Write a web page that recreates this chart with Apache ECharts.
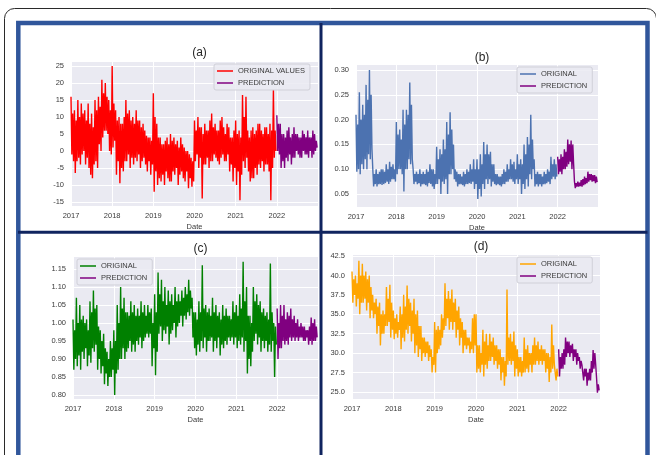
<!DOCTYPE html>
<html><head><meta charset="utf-8">
<script src="https://cdn.jsdelivr.net/npm/echarts@6/dist/echarts.min.js"></script>
<style>html,body{margin:0;padding:0;background:#fff}#c{width:656px;height:455px}</style>
</head><body><div id="c"></div>
<script>
// Weekly samples (4 per month) starting Jan 2017 (original) and Jan 2022 (prediction).
// Values alternate local high / local low.
const yearLabels = ['2017','2018','2019','2020','2021','2022'];

const aOriginal = [
 16,-1,11,-3, 12,-6.5,9,-3, 15,-2,10,-4, 14,-1,11,0, 12,-4,9,-2, 14,-5,8,-7, 11,-8,7,-4, 15,-3,12,-5, 16,2,13,0, 21,4,17,6, 20,6,16,5, 15,0,12,-1,
 25,1,14,3, 12,-7,9,-3, 10,-9.5,8,-5, 8,-6,10,-3, 15,-3,11,-1, 12,-5,9,-2, 10,-4,8,-2, 12,-3,9,-1, 9,-5,7,-3, 8,-2,6,-4, 4.5,-6,4,-3, 4,-7,3,-4,
 17,-12,10,-6, 8,-10,4,-8, 4,-9,2,-7, 2,-10,3,-6, 4,-8,2,-9, 5,-9,3,-6, 4,-7,2,-5, 3,-10,1,-7, 4,-6,2,-8, 1,-9,0,-6, 0,-11,-1,-8, -2,-10.5,-3,-9,
 9,-3,6,-1, 10,-5,7,-2, 7,-14,5,-4, 8,-4,6,-2, 6,-5,9,-3, 11,-3,7,-1, 8,-2,6,-3, 6,-4,9,-2, 10,-1,7,-3, 5,-3,8,-1, 7,-6,4,-4, 4,-9,6,-5,
 9,-10,5,-6, 6,-14.5,4,-7, 16.5,-3,10,-5, 16,-2,6,-6, 4,-9,6,-8, 7,-8,5,-5, 6,-7,8,-4, 8,-5,6,-3, 5,-6,7,-4, 7,-4,5,-6, 8,-14.5,6,-5, 18,-2,6,0
];
const aPrediction = [10.5,0,8,-1, 8,-5,5,-3, 5,-5,4,-2, 6,-3,7,-1, 4,-4,5,-2, 7,-2,5,0, 5,-1,4,-2, 4,-2,6,0, 5,-1,4,-1, 6,-2,4,0, 4,-2,6,-1, 5,0,3,1];

const bOriginal = [
 .21,.095,.19,.10, .255,.09,.20,.11, .23,.10,.21,.12, .27,.10,.24,.13, .30,.12,.25,.14, .10,.065,.09,.07, .10,.065,.09,.07, .095,.07,.10,.068, .10,.07,.095,.072, .11,.075,.10,.07, .115,.075,.105,.08, .11,.08,.10,.075,
 .195,.09,.17,.10, .18,.10,.16,.09, .22,.055,.19,.10, .22,.10,.21,.12, .275,.11,.23,.12, .10,.07,.09,.075, .095,.07,.09,.072, .10,.065,.09,.07, .095,.07,.09,.068, .10,.065,.095,.072, .11,.07,.10,.065, .10,.06,.09,.07,
 .145,.07,.12,.08, .14,.05,.13,.075, .16,.07,.14,.08, .195,.05,.17,.09, .215,.09,.18,.10, .15,.08,.10,.075, .095,.065,.09,.07, .09,.07,.085,.068, .095,.065,.09,.07, .10,.07,.095,.072, .11,.07,.10,.075, .12,.06,.10,.07,
 .12,.04,.10,.06, .13,.045,.11,.07, .155,.06,.13,.08, .15,.07,.13,.08, .135,.065,.11,.075, .11,.07,.09,.068, .09,.07,.085,.068, .085,.065,.09,.07, .10,.07,.095,.075, .11,.075,.10,.08, .12,.08,.11,.075, .115,.07,.10,.08,
 .13,.07,.11,.08, .12,.05,.11,.07, .15,.06,.13,.08, .165,.065,.15,.09, .21,.08,.16,.10, .12,.065,.09,.07, .095,.065,.09,.07, .09,.065,.085,.07, .095,.07,.09,.072, .10,.075,.095,.07, .125,.08,.11,.085, .12,.08,.11,.085
];
const bPrediction = [.125,.09,.12,.095, .13,.09,.125,.10, .14,.10,.135,.105, .16,.11,.15,.115, .158,.10,.15,.11, .075,.062,.072,.065, .075,.065,.073,.066, .078,.065,.08,.068, .085,.07,.082,.072, .095,.075,.09,.078, .09,.075,.088,.076, .088,.072,.085,.074];

const cOriginal = [
 1.01,.87,.98,.90, 1.07,.88,1.00,.91, 1.05,.87,1.01,.92, 1.02,.90,1.00,.93, 1.01,.88,.98,.91, 1.06,.89,1.03,.93, 1.09,.92,1.04,.94, 1.05,.87,.99,.90, .98,.86,.95,.88, .97,.83,.93,.86, .92,.825,.90,.85, .95,.85,.93,.87,
 .98,.80,.95,.86, 1.05,.87,1.00,.90, 1.10,.90,1.04,.93, 1.07,.90,1.03,.92, 1.03,.93,1.02,.95, 1.06,.92,1.03,.94, 1.05,.92,1.02,.95, 1.04,.94,1.02,.96, 1.06,.93,1.03,.95, 1.05,.96,1.02,.97, 1.05,.96,1.03,.97, 1.04,.88,1.00,.93,
 1.08,.855,1.03,.92, 1.14,.97,1.08,.99, 1.12,.95,1.06,.98, 1.10,.97,1.05,.99, 1.09,.94,1.06,.97, 1.08,.98,1.05,1.00, 1.10,.96,1.06,.99, 1.08,1.00,1.06,1.02, 1.09,.99,1.07,1.02, 1.10,1.01,1.08,1.03, 1.12,1.02,1.09,1.04, 1.07,.96,1.03,.93,
 1.03,.91,1.01,.94, 1.06,.92,1.03,.95, 1.16,.93,1.04,.96, 1.05,.92,1.03,.95, 1.04,.95,1.02,.96, 1.07,.92,1.03,.95, 1.05,.93,1.02,.96, 1.03,.91,1.01,.94, 1.05,.93,1.02,.95, 1.04,.94,1.02,.96, 1.02,.95,1.01,.96, 1.06,.94,1.03,.96,
 1.05,.93,1.02,.95, 1.08,.94,1.04,.96, 1.17,.92,1.06,.95, 1.10,.86,1.02,.90, 1.02,.88,1.00,.92, 1.10,.95,1.06,.97, 1.08,.94,1.05,.96, 1.06,.92,1.03,.95, 1.04,.93,1.02,.95, 1.03,.92,1.01,.94, 1.165,.92,1.03,.95, 1.00,.85,.99,.94
];
const cPrediction = [1.04,.90,1.00,.93, 1.05,.93,1.02,.95, 1.05,.94,1.01,.95, 1.03,.94,1.02,.96, 1.04,.95,1.01,.96, 1.02,.95,1.00,.96, 1.01,.95,.99,.96, 1.00,.96,.99,.95, .99,.95,.98,.96, .98,.94,.99,.95, 1.015,.94,1.00,.95, 1.01,.95,.99,.96];

const dOriginal = [
 40.5,36.5,39.5,37.5, 40.0,36.0,39.0,37.0, 41.9,35.0,40.0,36.5, 41.5,36.5,40.0,37.0, 40.5,35.5,39.5,36.5, 40.0,34.5,38.5,35.5, 37.5,34.5,36.5,35.0, 37.0,32.5,36.0,33.5, 36.5,31.0,35.0,32.5, 35.5,32.5,35.0,33.5, 38.5,33.5,37.0,34.0, 38.8,32.0,36.5,33.0,
 35.5,31.8,34.5,32.5, 35.0,32.0,34.0,33.0, 36.0,30.5,35.0,32.0, 37.5,31.5,36.0,33.0, 38.7,32.5,37.0,33.5, 36.5,31.5,35.5,32.5, 37.0,30.0,35.0,31.0, 35.5,29.5,33.5,30.5, 33.5,29.0,32.0,30.0, 32.0,29.5,31.5,30.0, 31.5,29.0,31.0,29.5, 30.5,27.5,29.5,28.5,
 34.0,27.5,33.0,30.0, 33.5,30.5,33.0,31.0, 35.0,32.0,34.5,33.0, 39.0,33.5,37.0,34.5, 38.0,33.0,37.0,34.0, 38.2,33.0,36.5,34.0, 37.0,32.0,35.5,33.0, 36.0,31.0,34.5,32.0, 34.0,30.0,33.0,31.0, 33.0,30.5,32.0,31.0, 32.0,30.0,31.5,30.5, 34.5,30.0,35.0,31.0,
 35.0,27.5,31.0,28.0, 31.0,27.5,30.0,28.5, 33.0,27.0,31.5,28.5, 32.5,28.0,31.0,29.0, 32.5,29.0,31.5,29.5, 32.0,28.5,31.0,29.0, 31.0,28.0,30.5,28.5, 30.5,26.5,29.5,27.5, 29.5,25.8,29.0,27.0, 38.2,28.5,32.0,29.0, 32.5,28.5,31.5,29.0, 32.8,27.0,31.0,28.0,
 30.5,27.0,29.5,27.5, 29.5,27.0,29.0,27.5, 32.0,27.5,30.5,28.0, 31.0,27.5,30.0,28.5, 30.0,27.5,31.0,28.5, 32.0,28.5,31.0,29.0, 31.5,28.5,30.5,29.0, 31.0,28.5,30.5,29.0, 30.5,27.5,30.0,28.0, 30.0,26.3,29.5,27.5, 33.7,28.0,31.0,28.5, 28.5,26.5,28.0,27.0
];
const dPrediction = [30.5,27.0,29.5,28.0, 30.0,28.0,30.5,28.5, 32.0,29.5,31.5,30.0, 31.5,29.5,31.0,30.0, 31.2,29.0,30.5,29.5, 30.5,28.5,30.0,29.0, 29.5,28.0,29.0,28.5, 28.5,26.5,28.0,27.0, 28.0,25.8,27.5,26.5, 28.0,26.5,29.0,27.5, 30.4,28.0,30.0,28.5, 26.8,24.9,26.0,25.2];

const panelData = [
  {key:'a', title:'(a)', origName:'ORIGINAL VALUES', orig:aOriginal, pred:aPrediction},
  {key:'b', title:'(b)', origName:'ORIGINAL', orig:bOriginal, pred:bPrediction},
  {key:'c', title:'(c)', origName:'ORIGINAL', orig:cOriginal, pred:cPrediction},
  {key:'d', title:'(d)', origName:'ORIGINAL', orig:dOriginal, pred:dPrediction}
];

// layout / style
const layout = {
  a:{grid:{left:71,top:61,width:247,height:145}, y:[-16.2,26.5,5,0], legend:{left:214,top:64}, tx:194.5, ty:42, color:'#ff0000'},
  b:{grid:{left:356,top:64,width:242,height:143}, y:[0.0238,0.3121,0.05,2], legend:{left:517,top:67}, tx:477, ty:47, color:'#4c72b0'},
  c:{grid:{left:73,top:256,width:245,height:143}, y:[0.789,1.186,0.05,2], legend:{left:77,top:259}, tx:195.5, ty:238, color:'#008000'},
  d:{grid:{left:352,top:254,width:248,height:145}, y:[24.1,42.76,2.5,1], legend:{left:517,top:257}, tx:476, ty:236, color:'#ffa500'}
};
const PRED_COLOR = '#800080';
const FONT = '"Liberation Sans", Arial, sans-serif';
const LABEL = '#3a3a3a';

function toPoints(vals, startYear){
  return vals.map((v,i)=>[startYear + i/48, v]);
}

const grid=[], xAxis=[], yAxis=[], series=[], title=[], legend=[];
panelData.forEach((p,k)=>{
  const L = layout[p.key];
  grid.push(Object.assign({show:true, backgroundColor:'#eaeaf2', borderWidth:0}, L.grid));
  xAxis.push({type:'value', gridIndex:k, min:2017, max:2023, minInterval:1, maxInterval:1,
    name:'Date', nameLocation:'middle', nameGap:17,
    nameTextStyle:{fontFamily:FONT, fontSize:7.5, color:LABEL},
    axisLine:{show:false}, axisTick:{show:false},
    axisLabel:{fontFamily:FONT, fontSize:7.5, color:LABEL, margin:6, showMaxLabel:false,
      formatter:v=>{const i=Math.round(v)-2017; return yearLabels[i]||'';}},
    splitLine:{show:true, lineStyle:{color:'#ffffff', width:1}}});
  yAxis.push({type:'value', gridIndex:k, min:L.y[0], max:L.y[1], minInterval:L.y[2], maxInterval:L.y[2],
    axisLine:{show:false}, axisTick:{show:false},
    axisLabel:{fontFamily:FONT, fontSize:7.5, color:LABEL, margin:7, showMinLabel:false, showMaxLabel:false,
      formatter:v=>v.toFixed(L.y[3])},
    splitLine:{show:true, lineStyle:{color:'#ffffff', width:1}}});
  const on = p.origName + ' ' + p.key, pn = 'PREDICTION ' + p.key;
  series.push({type:'line', name:on, xAxisIndex:k, yAxisIndex:k, data:toPoints(p.orig,2017),
    symbol:'none', lineStyle:{color:L.color, width:1.4}, itemStyle:{color:L.color}, animation:false});
  series.push({type:'line', name:pn, xAxisIndex:k, yAxisIndex:k, data:toPoints(p.pred,2022),
    symbol:'none', lineStyle:{color:PRED_COLOR, width:1.4}, itemStyle:{color:PRED_COLOR}, animation:false});
  title.push({text:p.title, left:L.tx, top:L.ty, textAlign:'center',
    textStyle:{fontFamily:FONT, fontSize:12, fontWeight:'normal', color:'#262626'}});
  legend.push({data:[on,pn], orient:'vertical', left:L.legend.left, top:L.legend.top,
    icon:'rect', itemWidth:16, itemHeight:1.5, itemGap:4, itemTextGap:6,
    padding:[3,5,3,3], backgroundColor:'rgba(234,234,242,0.85)', borderColor:'#d0d0d8', borderWidth:1, borderRadius:2,
    textStyle:{fontFamily:FONT, fontSize:7.5, color:LABEL},
    formatter:n=>n.replace(/ [abcd]$/,''), selectedMode:false});
});

const chart = echarts.init(document.getElementById('c'), null, {renderer:'canvas'});
chart.setOption({
  animation:false,
  grid, xAxis, yAxis, series, title, legend,
  graphic:[
    {type:'rect', shape:{x:4.5,y:8.5,width:652,height:480,r:10}, style:{fill:'none', stroke:'#2a2a2a', lineWidth:1}, silent:true},
    {type:'rect', shape:{x:18.3,y:23,width:629.2,height:470}, style:{fill:'none', stroke:'#30569b', lineWidth:4.5}, silent:true},
    {type:'line', shape:{x1:321,y1:23,x2:321,y2:460}, style:{stroke:'#10245f', lineWidth:3}, silent:true},
    {type:'line', shape:{x1:18,y1:232.3,x2:647.5,y2:232.3}, style:{stroke:'#10245f', lineWidth:3}, silent:true}
  ]
});
</script></body></html>
